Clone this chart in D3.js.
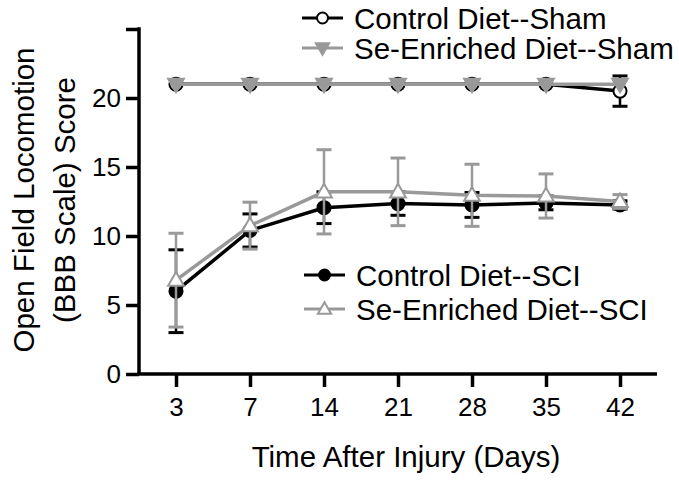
<!DOCTYPE html>
<html>
<head>
<meta charset="utf-8">
<script src="https://cdn.jsdelivr.net/npm/d3@7"></script>
<style>
  body { margin: 0; background: #fff; }
  svg text { font-family: "Liberation Sans", Arial, sans-serif; fill: #000; }
</style>
</head>
<body>
<svg id="chart" width="679" height="480"></svg>
<script>
const days = ['3', '7', '14', '21', '28', '35', '42'];
const yTicks = [0, 5, 10, 15, 20, 25];

const controlSham = [21, 21, 21, 21, 21, 21, 20.5];
const controlShamErr = [0, 0, 0, 0, 0, 0, 1.1];
const seSham = [21, 21, 21, 21, 21, 21, 21];
const seShamErr = [0, 0, 0, 0, 0, 0, 0];
const controlSci = [6.0, 10.4, 12.05, 12.35, 12.25, 12.4, 12.25];
const controlSciErr = [3.0, 1.2, 1.15, 0.85, 0.9, 0.5, 0.3];
const seSci = [6.8, 10.75, 13.2, 13.2, 12.95, 12.9, 12.5];
const seSciErr = [3.4, 1.7, 3.05, 2.45, 2.25, 1.6, 0.5];

const black = '#000';
const grey = '#999';
const titleSize = 29.5;
const tickSize = 26;

const svg = d3.select('#chart');

const xScale = d3.scaleLinear()
  .domain([-0.5, 6.5])
  .range([139, 657]);

const yScale = d3.scaleLinear()
  .domain([0, 25])
  .range([374, 29]);

// axes
const xAxis = d3.axisBottom(xScale)
  .tickValues(d3.range(days.length))
  .tickFormat((i) => days[i])
  .tickSize(13)
  .tickSizeOuter(0)
  .tickPadding(11);

const gx = svg.append('g')
  .attr('transform', `translate(0, ${yScale(0)})`)
  .call(xAxis);

const yAxis = d3.axisLeft(yScale)
  .tickValues(yTicks)
  .tickFormat((d) => d === 25 ? '' : d)
  .tickSize(13)
  .tickSizeOuter(0)
  .tickPadding(5);

const gy = svg.append('g')
  .attr('transform', `translate(${xScale.range()[0]}, 0)`)
  .call(yAxis);

[gx, gy].forEach((g) => {
  g.select('.domain').attr('stroke', black).attr('stroke-width', 3.5);
  g.selectAll('.tick line').attr('stroke', black).attr('stroke-width', 3.5);
  g.selectAll('.tick text').attr('font-size', tickSize).attr('fill', black);
});
gx.select('.domain').attr('d', `M${xScale.range()[0] - 1.75},0H${xScale.range()[1]}`);
gy.select('.domain').attr('d', `M0,${yScale(0)}V${yScale(25) - 1.75}`);

// axis titles
svg.append('text')
  .attr('x', 406)
  .attr('y', 467)
  .attr('text-anchor', 'middle')
  .attr('font-size', titleSize)
  .text('Time After Injury (Days)');

const yTitle = svg.append('text')
  .attr('transform', 'translate(0, 200) rotate(-90)')
  .attr('text-anchor', 'middle')
  .attr('font-size', titleSize);
yTitle.append('tspan').attr('x', 0).attr('y', 34).text('Open Field Locomotion');
yTitle.append('tspan').attr('x', 0).attr('y', 75).text('(BBB Scale) Score');

// series
const series = [
  { name: 'Control Diet--Sham', values: controlSham, err: controlShamErr, color: black, shape: 'circle', fill: '#fff' },
  { name: 'Se-Enriched Diet--Sham', values: seSham, err: seShamErr, color: grey, shape: 'down', fill: grey },
  { name: 'Control Diet--SCI', values: controlSci, err: controlSciErr, color: black, shape: 'circle', fill: black },
  { name: 'Se-Enriched Diet--SCI', values: seSci, err: seSciErr, color: grey, shape: 'up', fill: '#fff' }
];

function drawMarker(g, s, x, y, size) {
  const isCircle = s.shape === 'circle';
  const sym = d3.symbol(isCircle ? d3.symbolCircle : d3.symbolTriangle, isCircle ? size : size * 0.8);
  const rot = s.shape === 'down' ? ' rotate(180)' : '';
  const dy = s.shape === 'down' ? -1 : (s.shape === 'up' ? 1 : 0);
  g.append('path')
    .attr('d', sym())
    .attr('fill', s.fill)
    .attr('stroke', s.color)
    .attr('stroke-width', 2)
    .attr('transform', `translate(${x}, ${y + dy})${rot}`);
}

const line = d3.line()
  .x((d, i) => xScale(i))
  .y((d) => yScale(d));

series.forEach((s) => {
  const g = svg.append('g');

  // error bars
  s.values.forEach((v, i) => {
    if (!s.err[i]) return;
    const x = xScale(i);
    const y0 = yScale(v - s.err[i]);
    const y1 = yScale(v + s.err[i]);
    g.append('line')
      .attr('x1', x).attr('x2', x).attr('y1', y0).attr('y2', y1)
      .attr('stroke', s.color).attr('stroke-width', 2.5);
    [y0, y1].forEach((yy) => {
      g.append('line')
        .attr('x1', x - 7.5).attr('x2', x + 7.5).attr('y1', yy).attr('y2', yy)
        .attr('stroke', s.color).attr('stroke-width', 3);
    });
  });

  g.append('path')
    .datum(s.values)
    .attr('d', line)
    .attr('fill', 'none')
    .attr('stroke', s.color)
    .attr('stroke-width', 3.5);

  s.values.forEach((v, i) => drawMarker(g, s, xScale(i), yScale(v), 135));
});

// legends
const legendRows = [
  { s: series[0], x: 302, y: 18 },
  { s: series[1], x: 302, y: 48 },
  { s: series[2], x: 304, y: 275 },
  { s: series[3], x: 304, y: 309 }
];

legendRows.forEach(({ s, x, y }) => {
  const g = svg.append('g');
  g.append('line')
    .attr('x1', x).attr('x2', x + 41).attr('y1', y).attr('y2', y)
    .attr('stroke', s.color).attr('stroke-width', 3);
  drawMarker(g, s, x + 20.5, y, 95);
  g.append('text')
    .attr('x', x + 52)
    .attr('y', y)
    .attr('dy', '0.36em')
    .attr('font-size', titleSize)
    .text(s.name);
});
</script>
</body>
</html>
